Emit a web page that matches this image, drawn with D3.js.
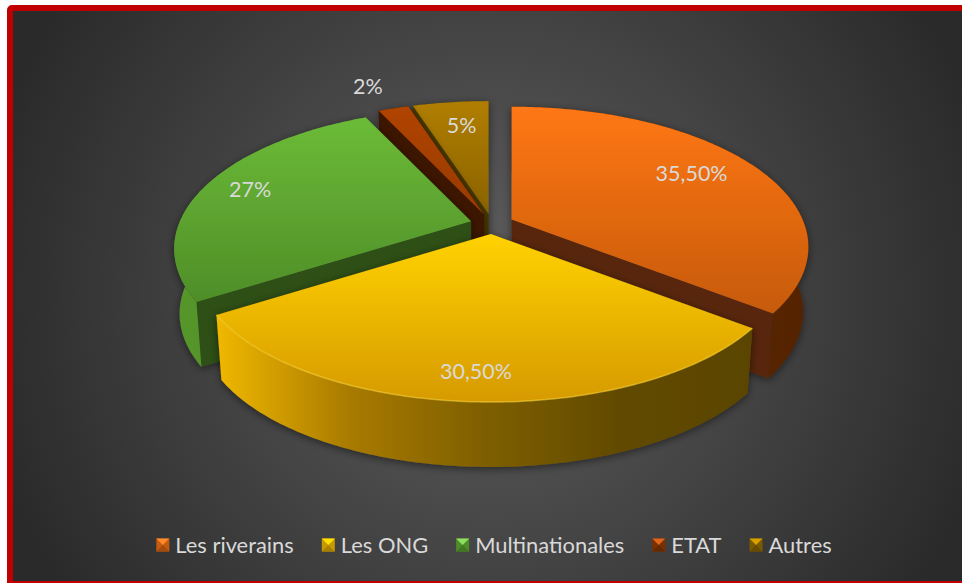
<!DOCTYPE html>
<html>
<head>
<meta charset="utf-8">
<script src="https://cdn.jsdelivr.net/npm/d3@7"></script>
<style>
  html, body { margin: 0; padding: 0; background: #fff; overflow: hidden; }
  text { font-family: Lato, "Open Sans", sans-serif; fill: #d9d9d9; }
</style>
</head>
<body>
<div id="chart"></div>
<script>
const categories = ["Les riverains", "Les ONG", "Multinationales", "ETAT", "Autres"];
const values = [35.5, 30.5, 27, 2, 5];
const valueLabels = ["35,50%", "30,50%", "27%", "2%", "5%"];

const topColors = [["#ff7712", "#c65a10"], ["#ffd200", "#d69a00"], ["#6cbb38", "#4e8e28"], ["#b04400", "#973a00"], ["#b07e00", "#8a6300"]];
const wallColors = ["#58280a", "#5c4600", "#2e4f18", "#3e1600", "#4a3800"];
const rimStops = [
  ["#5c2804", "#552404"],
  ["#f0b800", "#a87a00", "#7e5f00", "#624a00", "#5a4500"],
  ["#56972c", "#45802a"],
  ["#3e1600", "#3e1600"],
  ["#4a3800", "#4a3800"]
];
const legendColors = [["#ff8a2a", "#c55a11"], ["#ffe000", "#c99a00"], ["#8ee060", "#4e8e28"], ["#e0651c", "#7a3000"], ["#d9a000", "#7a5a00"]];

const width = 962, height = 583;
const cx = 492, cy = 224;       // pie centre before the slices are pulled out
const rx = 291, ry = 135;       // radii of the top face
const persp = 0.196;            // back of the pie is smaller than the front
const explode = 0.075;
const depth = 65, bottomShrink = 0.982;

// value label offset from the apex of its slice
const labelOffset = [[180, -46], [-15, 138], [-221, -31], [-116, -128], [-27, -88]];

const svg = d3.select("#chart").append("svg").attr("width", width).attr("height", height).style("display", "block");
const defs = svg.append("defs");

const bg = defs.append("radialGradient").attr("id", "bg").attr("gradientUnits", "userSpaceOnUse")
  .attr("cx", 490).attr("cy", 295).attr("r", 520);
bg.append("stop").attr("offset", 0).attr("stop-color", "#5f5f5f");
bg.append("stop").attr("offset", 1).attr("stop-color", "#2a2a2a");

const shadow = defs.append("filter").attr("id", "shadow")
  .attr("x", "-20%").attr("y", "-20%").attr("width", "140%").attr("height", "140%");
shadow.append("feDropShadow").attr("dx", 0).attr("dy", 2).attr("stdDeviation", 4)
  .attr("flood-color", "#000").attr("flood-opacity", 0.5);

const soft = defs.append("filter").attr("id", "soft");
soft.append("feGaussianBlur").attr("stdDeviation", 0.7);

svg.append("rect").attr("x", 10).attr("y", 8).attr("width", 970).attr("height", 576)
  .attr("rx", 2).attr("fill", "url(#bg)").attr("stroke", "#c00000").attr("stroke-width", 6);

const pie = d3.pie().sort(null).value(d => d);
const arcs = pie(values);
const line = d3.line();

// point on the top plane, relative to the slice apex
function flat(angle) {
  const u = Math.sin(angle), v = -Math.cos(angle);
  const s = 1 / (1 - persp * v);
  return [rx * u * s, ry * v * s];
}

function apexOf(a) {
  const mid = (a.startAngle + a.endAngle) / 2;
  return [cx + rx * explode * Math.sin(mid), cy - ry * explode * Math.cos(mid)];
}

const topPoint = (apex, angle) => {
  const p = flat(angle);
  return [apex[0] + p[0], apex[1] + p[1]];
};
const bottomPoint = (apex, angle) => {
  const p = flat(angle);
  return [apex[0] + p[0] * bottomShrink, apex[1] + p[1] + depth];
};

function arcAngles(a) {
  const n = Math.max(4, Math.ceil((a.endAngle - a.startAngle) * 60));
  return d3.range(n + 1).map(i => a.startAngle + (a.endAngle - a.startAngle) * i / n);
}

// paint back to front
const paintOrder = [4, 3, 2, 0, 1];

paintOrder.forEach(i => {
  const a = arcs[i];
  const apex = apexOf(a);
  const angles = arcAngles(a);
  const top = angles.map(t => topPoint(apex, t));
  const bottom = angles.map(t => bottomPoint(apex, t));
  const apexLow = [apex[0], apex[1] + depth];
  const g = svg.append("g").attr("class", "slice").attr("filter", "url(#shadow)");

  const tg = defs.append("linearGradient").attr("id", "top" + i).attr("x1", 0).attr("y1", 0).attr("x2", 0).attr("y2", 1);
  tg.append("stop").attr("offset", 0).attr("stop-color", topColors[i][0]);
  tg.append("stop").attr("offset", 1).attr("stop-color", topColors[i][1]);

  const rg = defs.append("linearGradient").attr("id", "rim" + i).attr("x1", 0).attr("y1", 0).attr("x2", 1).attr("y2", 0);
  rimStops[i].forEach((c, k) => {
    rg.append("stop").attr("offset", k / (rimStops[i].length - 1)).attr("stop-color", c);
  });

  // the two straight walls
  [[top[0], bottom[0]], [top[top.length - 1], bottom[bottom.length - 1]]].forEach(w => {
    g.append("path")
      .attr("d", line([apex, w[0], w[1], apexLow]) + "Z")
      .attr("fill", wallColors[i]);
  });

  // outer rim
  g.append("path")
    .attr("d", line(top.concat(bottom.slice().reverse())) + "Z")
    .attr("fill", `url(#rim${i})`);

  // top face
  g.append("path")
    .attr("d", line([apex].concat(top)) + "Z")
    .attr("fill", `url(#top${i})`);

  // only the yellow slice shows a lit front edge
  if (i === 1) {
    g.append("path")
      .attr("d", line(top))
      .attr("fill", "none")
      .attr("stroke", "#ffd83a")
      .attr("stroke-opacity", 0.55)
      .attr("stroke-width", 1.5)
      .attr("filter", "url(#soft)");
  }
});

// value labels
svg.append("g").selectAll("text")
  .data(arcs)
  .join("text")
  .attr("text-anchor", "middle")
  .attr("font-size", 21.5)
  .attr("x", (d, i) => apexOf(d)[0] + labelOffset[i][0])
  .attr("y", (d, i) => apexOf(d)[1] + labelOffset[i][1] + 7)
  .text((d, i) => valueLabels[i]);

// legend, laid out by measured text width
const legend = svg.append("g").attr("class", "legend");
const items = legend.selectAll("g").data(categories).join("g");
items.append("text").attr("x", 19).attr("y", 8).attr("font-size", 21.9).text(d => d);
const swatch = 13, half = swatch / 2;
items.each(function (d, i) {
  const g = d3.select(this);
  const box = g.append("g").attr("transform", `translate(0,${-half})`);
  const c = legendColors[i];
  box.append("rect").attr("width", swatch).attr("height", swatch).attr("fill", c[1]);
  box.append("path").attr("d", line([[0, 0], [swatch, 0], [half, half]]) + "Z").attr("fill", c[0]);
  box.append("path").attr("d", line([[0, swatch], [swatch, swatch], [half, half]]) + "Z")
    .attr("fill", d3.color(c[1]).darker(0.5));
});
let legendX = 0;
const legendGap = 28;
const widths = [];
items.each(function () {
  const w = d3.select(this).select("text").node().getComputedTextLength() + 19;
  widths.push(w);
});
const total = d3.sum(widths) + legendGap * (widths.length - 1);
legendX = 494 - total / 2;
items.attr("transform", (d, i) => {
  const x = legendX;
  legendX += widths[i] + legendGap;
  return `translate(${x},545)`;
});
</script>
</body>
</html>
